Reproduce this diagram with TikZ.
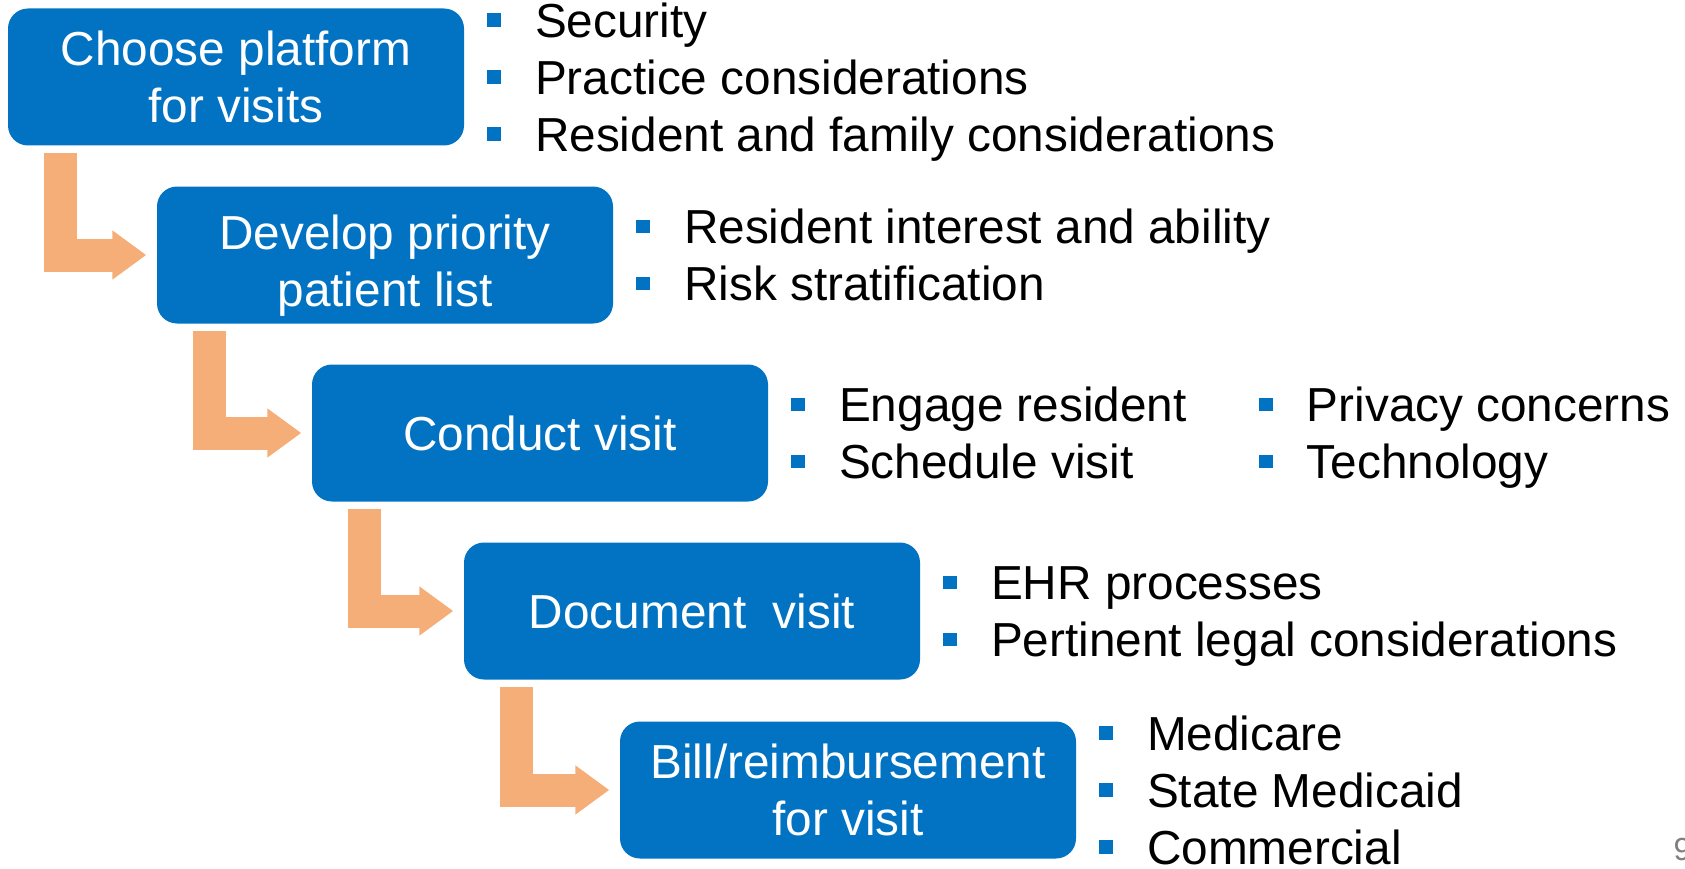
\documentclass[tikz,border=0pt]{standalone}
\usepackage{fontspec}
\setmainfont{Liberation Sans}
\usepackage{tikz}
\usetikzlibrary{arrows.meta,positioning}
\usepackage{xcolor}
\definecolor{stageblue}{RGB}{2,115,194}
\definecolor{flowtan}{RGB}{246,174,120}
\definecolor{pagegray}{RGB}{128,128,128}
\newcommand{\bodyfont}{\fontsize{13.58}{16.2}\selectfont}
% strut, so every line has the same height and depth
\newcommand{\ls}{\rule[-0.23em]{0pt}{1.18em}}
\newcommand{\sqbullet}{\ls\makebox[1em][l]{\textcolor{stageblue}{\rule[0.217em]{0.283em}{0.283em}}}}
\tikzstyle{stage} = [rectangle, rounded corners=0.2cm, minimum width=4.56cm, minimum height=1.37cm, inner ysep=0pt, align=center, fill=stageblue, text=white, font=\bodyfont]
\tikzstyle{items} = [inner sep=0pt, align=left, font=\bodyfont]
\tikzstyle{elbow} = [draw=flowtan, line width=0.33cm, line join=miter, -{Triangle[length=0.34cm, width=0.47cm]}]

\begin{document}
\begin{tikzpicture}
    \useasboundingbox (0,0) rectangle (16.85,8.68);

    % Stages
    \node[stage] (platform) at (2.36, 7.91) {Choose platform\\for visits};
    \node[stage] (priority) at (3.85, 6.13) {\rule{0pt}{1.18em}Develop priority\\patient list};
    \node[stage] (conduct) at (5.40, 4.35) {Conduct visit};
    \node[stage] (document) at (6.92, 2.57) {Document\ \ visit};
    \node[stage] (bill) at (8.48, 0.78) {Bill/reimbursement\\for visit};

    % Bullet lists
    \node[items, right=0.22cm of platform] (platformitems) {\sqbullet Security\\\sqbullet Practice considerations\\\sqbullet Resident and family considerations};
    \node[items, right=0.22cm of priority] (priorityitems) {\sqbullet Resident interest and ability\\\sqbullet Risk stratification};
    \node[items, right=0.22cm of conduct] (conductitems) {\sqbullet Engage resident\\\sqbullet Schedule visit};
    \node[items, right=0.71cm of conductitems] (conductmore) {\sqbullet Privacy concerns\\\sqbullet Technology};
    \node[items, right=0.22cm of document] (documentitems) {\sqbullet EHR processes\\\sqbullet Pertinent legal considerations};
    \node[items, right=0.22cm of bill] (billitems) {\sqbullet Medicare\\\sqbullet State Medicaid\\\sqbullet Commercial};

    % Arrows
    \draw[elbow] ([xshift=0.53cm, yshift=-0.07cm]platform.south west) |- ([xshift=-0.1cm]priority.west);
    \draw[elbow] ([xshift=0.53cm, yshift=-0.07cm]priority.south west) |- ([xshift=-0.1cm]conduct.west);
    \draw[elbow] ([xshift=0.53cm, yshift=-0.07cm]conduct.south west) |- ([xshift=-0.1cm]document.west);
    \draw[elbow] ([xshift=0.53cm, yshift=-0.07cm]document.south west) |- ([xshift=-0.1cm]bill.west);

    % Page number
    \node[font=\fontsize{9.1}{11}\selectfont, text=pagegray, anchor=base west, inner sep=0pt] (pagenum) at (16.73, 0.08) {9};
\end{tikzpicture}
\end{document}
